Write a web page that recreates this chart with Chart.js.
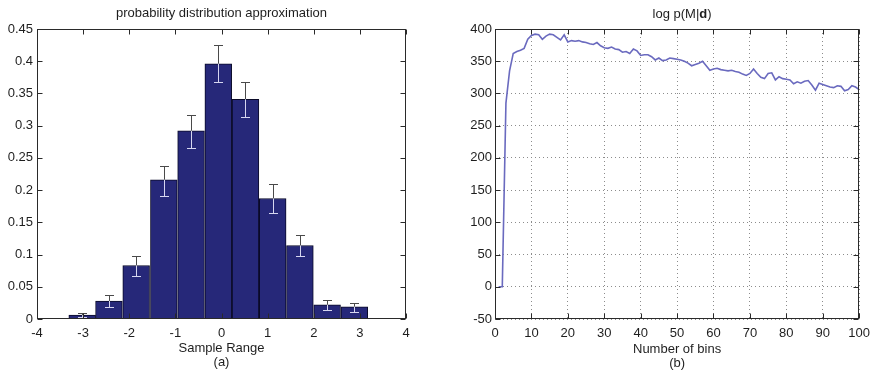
<!DOCTYPE html>
<html>
<head>
<meta charset="utf-8">
<title>Histogram and log evidence</title>
<script src="https://cdn.jsdelivr.net/npm/chart.js@4.4.0/dist/chart.umd.min.js"></script>
<style>
  html, body { margin: 0; padding: 0; background: #fff; }
  #wrap { position: relative; width: 877px; height: 376px; }
  canvas { position: absolute; top: 0; }
  #hist { left: 0; }
  #evid { left: 440px; }
</style>
</head>
<body>
<div id="wrap">
  <canvas id="hist" width="440" height="376"></canvas>
  <canvas id="evid" width="437" height="376"></canvas>
</div>
<script>
// (a) histogram: bin centres, heights and error bar limits
var binCenters = [-3.02, -2.44, -1.85, -1.25, -0.66, -0.07, 0.52, 1.11, 1.70, 2.29, 2.88];
var binHeights = [0.006, 0.028, 0.083, 0.216, 0.292, 0.396, 0.341, 0.187, 0.114, 0.022, 0.019];
var errUpper   = [0.010, 0.037, 0.097, 0.238, 0.317, 0.425, 0.368, 0.209, 0.131, 0.029, 0.025];
var errLower   = [0.003, 0.019, 0.067, 0.191, 0.266, 0.367, 0.313, 0.165, 0.097, 0.014, 0.011];
var histXTicks = [-4, -3, -2, -1, 0, 1, 2, 3, 4];
var histYTicks = [0, 0.05, 0.1, 0.15, 0.2, 0.25, 0.3, 0.35, 0.4, 0.45];

// (b) log evidence against number of bins
var binCounts = [];
for (var n = 1; n <= 100; n++) binCounts.push(n);
var logEvidence = [
  0, 0, 285, 335, 362, 365, 367, 370, 384, 390,
  392, 391, 384, 389, 392, 391, 387, 383, 391, 380,
  382, 381, 382, 380, 379, 377, 376, 379, 374, 371,
  370, 372, 369, 368, 364, 365, 362, 369, 366, 359,
  360, 360, 357, 352, 355, 351, 352, 355, 354, 353,
  352, 350, 347, 343, 345, 347, 350, 343, 336, 338,
  339, 337, 336, 335, 336, 334, 333, 330, 328, 331,
  338, 331, 325, 323, 331, 332, 321, 326, 323, 322,
  321, 315, 318, 316, 319, 320, 313, 305, 316, 314,
  312, 310, 309, 312, 311, 304, 306, 312, 310, 306
];
var evidXTicks = [0, 10, 20, 30, 40, 50, 60, 70, 80, 90, 100];
var evidYTicks = [-50, 0, 50, 100, 150, 200, 250, 300, 350, 400];

var FONT = '"Liberation Sans", Arial, Helvetica, sans-serif';
Chart.defaults.font.family = FONT;
Chart.defaults.font.size = 13;
Chart.defaults.color = '#1e1e1e';

function fixedTicks(list) {
  return function (scale) {
    scale.ticks = list.map(function (v) { return { value: v }; });
  };
}

// title above the plot box, pieces may be bold
var panelTitle = {
  id: 'panelTitle',
  afterDraw: function (chart, args, opts) {
    var ctx = chart.ctx, a = chart.chartArea;
    var parts = opts.parts || [];
    ctx.save();
    ctx.fillStyle = '#1e1e1e';
    ctx.textBaseline = 'middle';
    var total = 0;
    parts.forEach(function (p) {
      ctx.font = (p.bold ? 'bold ' : '') + opts.size + 'px ' + FONT;
      p.w = ctx.measureText(p.text).width;
      total += p.w;
    });
    var x = (a.left + a.right) / 2 + (opts.dx || 0) - total / 2;
    parts.forEach(function (p) {
      ctx.font = (p.bold ? 'bold ' : '') + opts.size + 'px ' + FONT;
      ctx.fillText(p.text, x, opts.y);
      x += p.w;
    });
    ctx.restore();
  }
};

// box round the plot with inward tick marks on all four sides
var boxTicks = {
  id: 'boxTicks',
  afterDraw: function (chart) {
    var ctx = chart.ctx, a = chart.chartArea, len = 5;
    var sx = chart.scales.x, sy = chart.scales.y;
    var L = Math.round(a.left) + 0.5, R = Math.round(a.right) - 0.5;
    var T = Math.round(a.top) + 0.5, B = Math.round(a.bottom) - 0.5;
    ctx.save();
    ctx.strokeStyle = '#2a2a2a';
    ctx.lineWidth = 1;
    ctx.beginPath();
    sx.ticks.forEach(function (t) {
      var px = Math.round(sx.getPixelForValue(t.value)) + 0.5;
      ctx.moveTo(px, B); ctx.lineTo(px, B - len);
      ctx.moveTo(px, T); ctx.lineTo(px, T + len);
    });
    sy.ticks.forEach(function (t) {
      var py = Math.round(sy.getPixelForValue(t.value)) + 0.5;
      ctx.moveTo(L, py); ctx.lineTo(L + len, py);
      ctx.moveTo(R, py); ctx.lineTo(R - len, py);
    });
    ctx.stroke();
    ctx.strokeRect(L, T, R - L, B - T);
    ctx.restore();
  }
};

// error bars: dark above the bar top, pale where they cross the bar
var errorBars = {
  id: 'errorBars',
  afterDatasetsDraw: function (chart) {
    var ctx = chart.ctx, sy = chart.scales.y, cap = 4.5;
    var bars = chart.getDatasetMeta(0).data;
    ctx.save();
    ctx.lineWidth = 1;
    bars.forEach(function (bar, i) {
      var cx = Math.round(bar.x) + 0.5;
      var top = bar.y;
      var hi = Math.round(sy.getPixelForValue(errUpper[i])) + 0.5;
      var lo = Math.round(sy.getPixelForValue(errLower[i])) + 0.5;
      ctx.strokeStyle = '#4a4a4a';
      ctx.beginPath();
      ctx.moveTo(cx, hi); ctx.lineTo(cx, top);
      ctx.moveTo(cx - cap, hi); ctx.lineTo(cx + cap, hi);
      ctx.stroke();
      ctx.strokeStyle = '#d6d6f0';
      ctx.beginPath();
      ctx.moveTo(cx, top); ctx.lineTo(cx, lo);
      ctx.moveTo(cx - cap, lo); ctx.lineTo(cx + cap, lo);
      ctx.stroke();
    });
    ctx.restore();
  }
};

new Chart(document.getElementById('hist'), {
  type: 'bar',
  data: {
    datasets: [{
      data: binCenters.map(function (c, i) { return { x: c, y: binHeights[i] }; }),
      backgroundColor: '#262879',
      borderColor: '#0a0a28',
      borderWidth: 1,
      barPercentage: 1,
      categoryPercentage: 1
    }]
  },
  options: {
    responsive: false,
    animation: false,
    layout: { padding: { top: 29, right: 34, left: 0, bottom: 0 } },
    plugins: {
      legend: { display: false },
      tooltip: { enabled: false },
      panelTitle: { parts: [{ text: 'probability distribution approximation' }], size: 13, y: 13 }
    },
    scales: {
      x: {
        type: 'linear', min: -4, max: 4, offset: false,
        afterBuildTicks: fixedTicks(histXTicks),
        afterFit: function (s) { s.height = 57; },
        grid: { display: false, drawTicks: false, offset: false },
        border: { display: false },
        ticks: { padding: 7, callback: function (v) { return String(v); } },
        title: { display: true, text: ['Sample Range', '(a)'], font: { size: 13, lineHeight: 1.08 }, padding: { top: 0, bottom: 7 } }
      },
      y: {
        min: 0, max: 0.45,
        afterBuildTicks: fixedTicks(histYTicks),
        afterFit: function (s) { s.width = 37; },
        grid: { display: false, drawTicks: false },
        border: { display: false },
        ticks: { padding: 4, callback: function (v) { return String(v); } }
      }
    }
  },
  plugins: [errorBars, boxTicks, panelTitle]
});

new Chart(document.getElementById('evid'), {
  type: 'line',
  data: {
    labels: binCounts,
    datasets: [{
      data: logEvidence,
      borderColor: '#6a6abf',
      borderWidth: 1.6,
      pointRadius: 0,
      tension: 0,
      fill: false
    }]
  },
  options: {
    responsive: false,
    animation: false,
    layout: { padding: { top: 29, right: 13, left: 0, bottom: 0 } },
    plugins: {
      legend: { display: false },
      tooltip: { enabled: false },
      panelTitle: {
        parts: [{ text: 'log p(M|' }, { text: 'd', bold: true }, { text: ')' }],
        size: 13, y: 14, dx: 5
      }
    },
    scales: {
      x: {
        type: 'linear', min: 0, max: 100,
        afterBuildTicks: fixedTicks(evidXTicks),
        afterFit: function (s) { s.height = 57; },
        grid: { color: '#8c8c8c', lineWidth: 1, drawTicks: false },
        border: { display: false, dash: [1, 3] },
        ticks: { padding: 7, callback: function (v) { return String(v); } },
        title: { display: true, text: ['Number of bins', '(b)'], font: { size: 13, lineHeight: 1.08 }, padding: { top: 0, bottom: 6 } }
      },
      y: {
        min: -50, max: 400,
        afterBuildTicks: fixedTicks(evidYTicks),
        afterFit: function (s) { s.width = 55; },
        grid: { color: '#8c8c8c', lineWidth: 1, drawTicks: false },
        border: { display: false, dash: [1, 3] },
        ticks: { padding: 3, callback: function (v) { return String(v); } }
      }
    }
  },
  plugins: [boxTicks, panelTitle]
});
</script>
</body>
</html>
